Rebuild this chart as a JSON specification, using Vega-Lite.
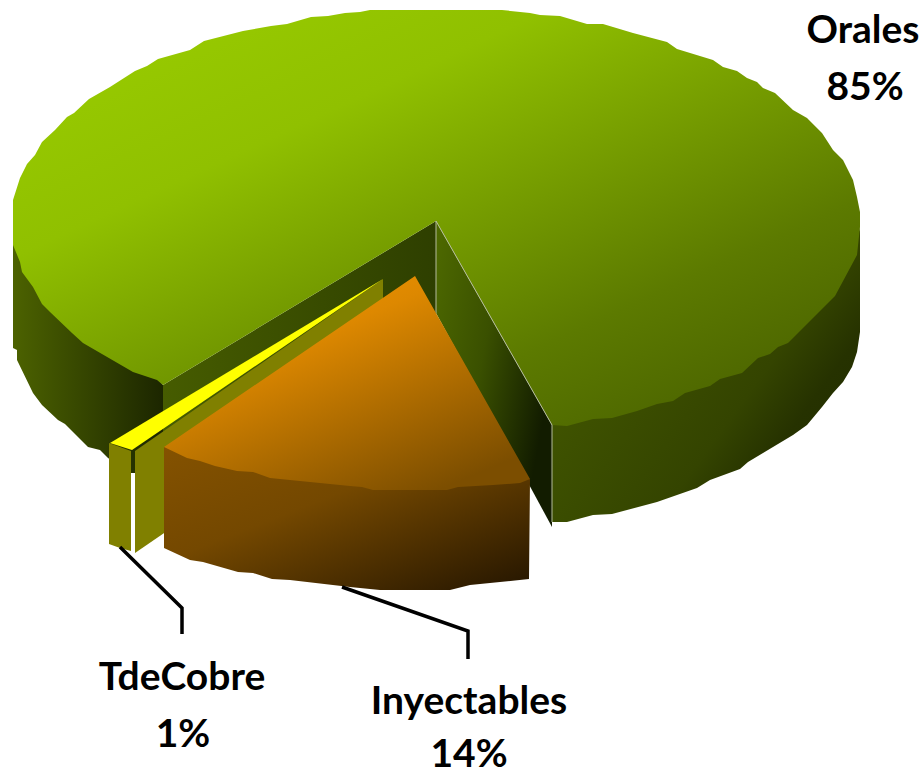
{"$schema":"https://vega.github.io/schema/vega-lite/v6.json","autosize":{"type":"none"},"width":923,"height":774,"padding":0,"background":"white","view":{"stroke":null},
"datasets":{
"leftSide":[{"x":13,"y":200},{"x":13,"y":348},{"x":17,"y":350},{"x":17,"y":360},{"x":33,"y":393},{"x":42,"y":405},{"x":58,"y":420},{"x":65,"y":424},{"x":88,"y":447},{"x":100,"y":450},{"x":108,"y":458},{"x":131,"y":473},{"x":135,"y":473},{"x":163,"y":440},{"x":163,"y":385}],
"wallLeft":[{"x":436,"y":221},{"x":163,"y":385},{"x":163,"y":478},{"x":436,"y":313}],
"wallRight":[{"x":436,"y":221},{"x":552,"y":425},{"x":552,"y":527},{"x":436,"y":313}],
"rightSide":[{"x":552,"y":425},{"x":560,"y":415},{"x":612,"y":405},{"x":685,"y":380},{"x":788,"y":330},{"x":835,"y":285},{"x":855,"y":250},{"x":860,"y":227},{"x":860,"y":332},{"x":857,"y":352},{"x":852,"y":367},{"x":843,"y":382},{"x":833,"y":393},{"x":822,"y":407},{"x":807,"y":425},{"x":793,"y":435},{"x":763,"y":453},{"x":748,"y":462},{"x":740,"y":469},{"x":710,"y":480},{"x":697,"y":488},{"x":657,"y":502},{"x":612,"y":514},{"x":593,"y":515},{"x":567,"y":522},{"x":552,"y":522}],
"greenTop":[{"x":436,"y":221},{"x":163,"y":385},{"x":157,"y":380},{"x":133,"y":372},{"x":83,"y":343},{"x":72,"y":333},{"x":50,"y":312},{"x":42,"y":304},{"x":33,"y":287},{"x":22,"y":272},{"x":20,"y":262},{"x":13,"y":245},{"x":13,"y":200},{"x":20,"y":178},{"x":27,"y":164},{"x":35,"y":155},{"x":42,"y":142},{"x":55,"y":130},{"x":67,"y":117},{"x":74,"y":113},{"x":89,"y":99},{"x":110,"y":87},{"x":135,"y":71},{"x":147,"y":66},{"x":158,"y":59},{"x":190,"y":50},{"x":204,"y":41},{"x":243,"y":31},{"x":271,"y":26},{"x":287,"y":24},{"x":311,"y":17},{"x":328,"y":16},{"x":345,"y":13},{"x":360,"y":12},{"x":370,"y":10},{"x":502,"y":10},{"x":530,"y":13},{"x":540,"y":15},{"x":560,"y":16},{"x":587,"y":24},{"x":603,"y":24},{"x":633,"y":33},{"x":667,"y":42},{"x":677,"y":49},{"x":713,"y":60},{"x":723,"y":67},{"x":737,"y":71},{"x":747,"y":78},{"x":757,"y":82},{"x":763,"y":88},{"x":775,"y":93},{"x":793,"y":110},{"x":807,"y":118},{"x":822,"y":133},{"x":833,"y":150},{"x":843,"y":160},{"x":853,"y":180},{"x":857,"y":197},{"x":860,"y":212},{"x":860,"y":227},{"x":857,"y":255},{"x":835,"y":296},{"x":788,"y":343},{"x":778,"y":347},{"x":770,"y":354},{"x":758,"y":358},{"x":742,"y":373},{"x":720,"y":379},{"x":710,"y":386},{"x":685,"y":393},{"x":673,"y":401},{"x":657,"y":404},{"x":637,"y":411},{"x":612,"y":418},{"x":593,"y":419},{"x":567,"y":426},{"x":552,"y":425}],
"oliveWall":[{"x":135,"y":451},{"x":383,"y":279},{"x":383,"y":383},{"x":135,"y":553}],
"oliveRim":[{"x":109,"y":443},{"x":131,"y":451},{"x":131,"y":551},{"x":120,"y":548},{"x":109,"y":544}],
"yellowTop":[{"x":110,"y":443},{"x":383,"y":279},{"x":132,"y":450}],
"orangeSide":[{"x":164,"y":447},{"x":530,"y":479},{"x":529,"y":579},{"x":470,"y":585},{"x":450,"y":590},{"x":380,"y":590},{"x":350,"y":587},{"x":290,"y":580},{"x":272,"y":579},{"x":253,"y":573},{"x":238,"y":572},{"x":217,"y":566},{"x":203,"y":562},{"x":190,"y":560},{"x":164,"y":548}],
"orangeTop":[{"x":415,"y":276},{"x":530,"y":479},{"x":520,"y":483},{"x":493,"y":485},{"x":458,"y":487},{"x":447,"y":490},{"x":373,"y":490},{"x":362,"y":487},{"x":350,"y":486},{"x":290,"y":480},{"x":270,"y":478},{"x":253,"y":472},{"x":237,"y":471},{"x":215,"y":466},{"x":200,"y":461},{"x":187,"y":458},{"x":164,"y":447}],
"hair1":[{"x":436,"y":313},{"x":436,"y":221},{"x":552,"y":425},{"x":552,"y":522}],
"leader1":[{"x":120,"y":547},{"x":182,"y":608},{"x":182,"y":634}],
"leader2":[{"x":342,"y":587},{"x":468,"y":631},{"x":468,"y":659}],
"labels":[{"x":863,"y":31,"t":"Orales"},{"x":865,"y":88,"t":"85%"},{"x":182,"y":678,"t":"TdeCobre"},{"x":183,"y":735,"t":"1%"},{"x":469,"y":702,"t":"Inyectables"},{"x":469,"y":755,"t":"14%"}]
},
"encoding":{"x":{"field":"x","type":"quantitative","scale":{"domain":[0,923],"nice":false,"zero":false},"axis":null},"y":{"field":"y","type":"quantitative","scale":{"domain":[0,774],"reverse":true,"nice":false,"zero":false},"axis":null},"order":{"value":null}},
"layer":[
{"data":{"name":"leftSide"},"mark":{"type":"line","stroke":null,"fill":{"gradient":"linear","x1":0,"y1":0,"x2":1,"y2":0,"stops":[{"offset":0,"color":"#4c6200"},{"offset":1,"color":"#1c2600"}]}}},
{"data":{"name":"wallLeft"},"mark":{"type":"line","stroke":null,"fill":{"gradient":"linear","x1":0,"y1":0,"x2":1,"y2":0,"stops":[{"offset":0,"color":"#465c00"},{"offset":1,"color":"#2e3f00"}]}}},
{"data":{"name":"wallRight"},"mark":{"type":"line","stroke":null,"fill":{"gradient":"linear","x1":0,"y1":0,"x2":1,"y2":0.5,"stops":[{"offset":0,"color":"#4e6a00"},{"offset":0.5,"color":"#3a5000"},{"offset":1,"color":"#121c00"}]}}},
{"data":{"name":"rightSide"},"mark":{"type":"line","stroke":null,"fill":{"gradient":"linear","x1":0,"y1":0.2,"x2":1,"y2":0.9,"stops":[{"offset":0,"color":"#465c00"},{"offset":0.6,"color":"#344400"},{"offset":0.75,"color":"#263200"},{"offset":1,"color":"#202c00"}]}}},
{"data":{"name":"greenTop"},"mark":{"type":"line","stroke":null,"fill":{"gradient":"linear","x1":0.1,"y1":0.1,"x2":0.9,"y2":0.95,"stops":[{"offset":0,"color":"#97ca00"},{"offset":0.25,"color":"#90c000"},{"offset":0.75,"color":"#5c7a00"},{"offset":1,"color":"#4a6200"}]}}},
{"data":{"name":"hair1"},"mark":{"type":"line","stroke":"#b4bc9c","strokeWidth":1}},
{"data":{"name":"oliveWall"},"mark":{"type":"line","stroke":null,"fill":"#808000"}},
{"data":{"name":"oliveRim"},"mark":{"type":"line","stroke":null,"fill":"#808000"}},
{"data":{"name":"orangeSide"},"mark":{"type":"line","stroke":null,"fill":{"gradient":"linear","x1":0,"y1":0,"x2":1,"y2":1,"stops":[{"offset":0,"color":"#845200"},{"offset":0.4,"color":"#744800"},{"offset":1,"color":"#241500"}]}}},
{"data":{"name":"orangeTop"},"mark":{"type":"line","stroke":null,"fill":{"gradient":"linear","x1":0.1,"y1":0.1,"x2":0.75,"y2":1,"stops":[{"offset":0,"color":"#f09400"},{"offset":0.3,"color":"#dd8800"},{"offset":1,"color":"#7c4e00"}]}}},
{"data":{"name":"yellowTop"},"mark":{"type":"line","stroke":null,"fill":"#ffff00"}},
{"data":{"name":"leader1"},"mark":{"type":"line","stroke":"black","strokeWidth":3.5}},
{"data":{"name":"leader2"},"mark":{"type":"line","stroke":"black","strokeWidth":3.5}},
{"data":{"name":"labels"},"mark":{"type":"text","font":"Lato","fontWeight":"bold","fontSize":39,"color":"black","align":"center","baseline":"middle"},"encoding":{"text":{"field":"t"}}}
]}
